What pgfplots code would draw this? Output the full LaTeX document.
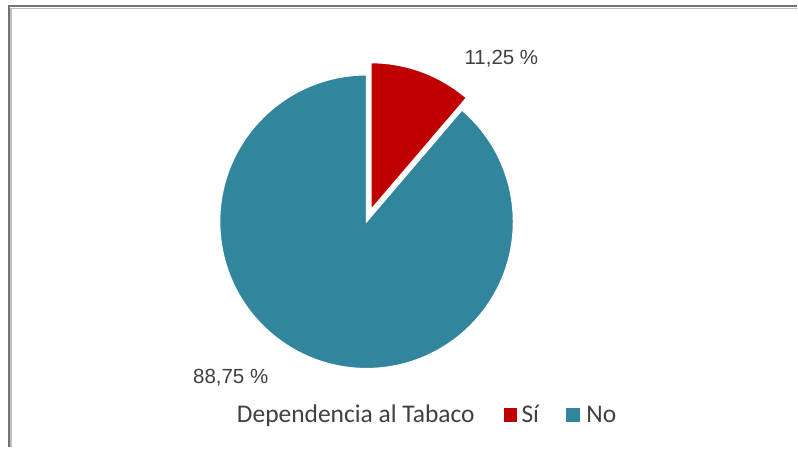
\documentclass[border=0pt]{standalone}
\usepackage{pgfplots}
\pgfplotsset{compat=1.18}
\usepackage{pgfplotstable}
\usepackage{fontspec}
\setmainfont{Liberation Sans}
\newfontfamily\legfont{Carlito}
\usetikzlibrary{calc}
\definecolor{cteal}{HTML}{31859C}
\definecolor{cred}{HTML}{C00000}
\definecolor{ctext}{HTML}{404040}
\pgfplotstableread{
label value
Si 11.25
No 88.75
}\piedata
\pgfplotstablegetelem{0}{value}\of\piedata \let\vSi\pgfplotsretval
\pgfplotstablegetelem{1}{value}\of\piedata \let\vNo\pgfplotsretval
\pgfmathsetmacro\aStart{90}
\pgfmathsetmacro\aMid{90-3.6*\vSi}
\pgfmathsetmacro\aBis{90-1.8*\vSi}
\pgfmathsetmacro\aNoEnd{\aMid-3.6*\vNo}
\begin{document}
\begin{tikzpicture}
\begin{axis}[x=1pt,y=1pt,xmin=0,xmax=798,ymin=0,ymax=448,hide axis,clip=false]
\addplot[draw=none,forget plot] coordinates {(0,0) (798,448)};
\fill[white] (0,0) rectangle (798,448);
% frame
\draw[draw=gray!90!black,line width=2pt] (9,0) -- (9,441.5) -- (798,441.5);
\draw[draw=gray!50,line width=1.5pt] (11,0) -- (11,439.5) -- (798,439.5);
% No slice
\fill[cteal,draw=white,line width=1.2pt] (367,226) -- ++(\aMid:147pt) arc[start angle=\aMid,end angle=\aNoEnd,radius=147pt] -- cycle;
% Si slice (exploded)
\fill[cred,draw=white,line width=1.2pt] ($(367,226)+(\aBis:13pt)$) -- ++(\aStart:147pt) arc[start angle=\aStart,end angle=\aMid,radius=147pt] -- cycle;
% labels
\node[text=ctext,font=\fontsize{20.5}{20.5}\selectfont] at (502,389) {11,25 \%};
\node[text=ctext,font=\fontsize{20.5}{20.5}\selectfont] at (231,70) {88,75 \%};
% legend
\node[anchor=base west,inner sep=0pt,text=ctext,font=\legfont\fontsize{25.5}{25.5}\selectfont] at (237,25) {Dependencia al Tabaco};
\fill[cred] (505,25) rectangle (518,39);
\node[anchor=base west,inner sep=0pt,text=ctext,font=\legfont\fontsize{25.5}{25.5}\selectfont] at (522,25) {Sí};
\fill[cteal] (567,25) rectangle (581,39);
\node[anchor=base west,inner sep=0pt,text=ctext,font=\legfont\fontsize{25.5}{25.5}\selectfont] at (587,25) {No};
\end{axis}
\end{tikzpicture}
\end{document}
